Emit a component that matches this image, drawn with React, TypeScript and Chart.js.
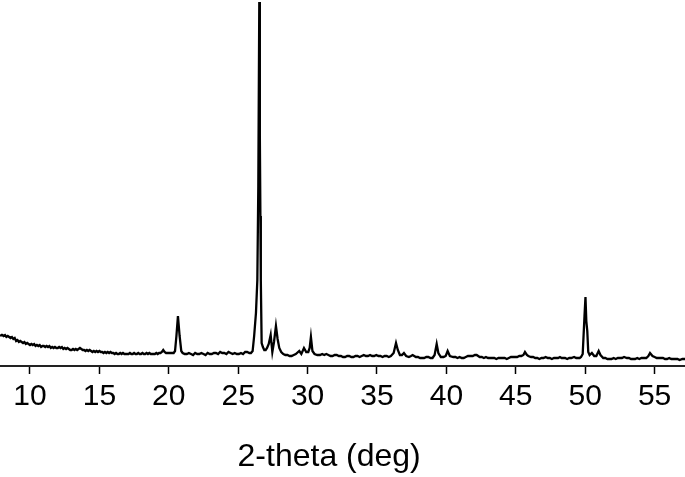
import React, { useEffect, useRef } from "react";
import { Chart, registerables } from "chart.js";

Chart.register(...registerables);

const twoTheta: number[] = [
  7.85, 7.95, 8.0, 8.1, 8.2, 8.3, 8.4, 8.5, 8.6, 8.7, 8.8, 8.9,
  9.0, 9.1, 9.2, 9.3, 9.4, 9.5, 9.6, 9.7, 9.8, 9.9,
  10.0, 10.1, 10.2, 10.3, 10.4, 10.5, 10.6, 10.7, 10.8, 10.9,
  11.0, 11.1, 11.2, 11.3, 11.4, 11.5, 11.6, 11.7, 11.8, 11.9,
  12.0, 12.1, 12.2, 12.3, 12.4, 12.5, 12.6, 12.7, 12.8, 12.9,
  13.0, 13.1, 13.2, 13.3, 13.4, 13.5, 13.6, 13.7, 13.8, 13.9,
  14.0, 14.1, 14.2, 14.3, 14.4, 14.5, 14.6, 14.7, 14.8, 14.9,
  15.0, 15.1, 15.2, 15.3, 15.4, 15.5, 15.6, 15.7, 15.8, 15.9,
  16.0, 16.1, 16.2, 16.3, 16.4, 16.5, 16.6, 16.7, 16.8, 16.9,
  17.0, 17.1, 17.2, 17.3, 17.4, 17.5, 17.6, 17.7, 17.8, 17.9,
  18.0, 18.1, 18.2, 18.3, 18.4, 18.5, 18.6, 18.7, 18.8, 18.9,
  19.0, 19.1, 19.2, 19.3, 19.4, 19.5, 19.6, 19.7, 19.8, 20.0,
  20.2, 20.35, 20.45, 20.55, 20.66, 20.78, 20.9,
  21.0, 21.15, 21.3, 21.45, 21.6, 21.75, 21.9, 22.05, 22.2, 22.35, 22.5, 22.65, 22.8, 22.95,
  23.1, 23.25, 23.4, 23.55, 23.7, 23.85, 24.0, 24.15, 24.3, 24.45, 24.6, 24.75, 24.9, 25.05,
  25.2, 25.35, 25.5, 25.65, 25.8, 25.92, 26.04, 26.15, 26.28, 26.38, 26.45, 26.52, 26.56, 26.6,
  26.63, 26.69, 26.78, 26.88, 26.98, 27.08, 27.2, 27.34, 27.46, 27.58, 27.72, 27.84, 27.96, 28.1,
  28.25, 28.4, 28.55, 28.7, 28.85, 29.0, 29.15, 29.4, 29.55, 29.74, 29.9, 30.05, 30.15, 30.24,
  30.35, 30.5, 30.7, 30.9,
  31.05, 31.2, 31.35, 31.5, 31.65, 31.8, 31.95, 32.1, 32.25, 32.4, 32.55, 32.7, 32.85, 33.0,
  33.15, 33.3, 33.45, 33.6, 33.75, 33.9, 34.05, 34.2, 34.35, 34.5, 34.65, 34.8, 34.95, 35.1,
  35.25, 35.4, 35.55, 35.7, 35.85, 36.0, 36.2, 36.37, 36.5, 36.65, 36.8, 36.94, 37.1, 37.3,
  37.45, 37.57, 37.8, 37.95, 38.1, 38.25, 38.4, 38.55, 38.7, 38.85, 39.0, 39.15, 39.3, 39.42,
  39.6, 39.8, 39.95, 40.09, 40.25, 40.5, 40.65, 40.8, 40.95, 41.1, 41.25, 41.4, 41.55, 41.7,
  41.9, 42.05, 42.18, 42.4, 42.55, 42.7, 42.85, 43.0, 43.15, 43.3, 43.45, 43.6, 43.75, 43.9,
  44.05, 44.2, 44.35, 44.5, 44.65, 44.8, 44.95, 45.1, 45.25, 45.4, 45.55, 45.66, 45.8, 45.9,
  46.1, 46.25, 46.4, 46.55, 46.7, 46.85, 47.0, 47.15, 47.3, 47.45, 47.6, 47.75, 47.9, 48.05,
  48.18, 48.3, 48.4, 48.55, 48.7, 48.85, 49.0, 49.2, 49.35, 49.5, 49.6, 49.7, 49.82, 49.95,
  50.02, 50.08, 50.15, 50.22, 50.32, 50.48, 50.65, 50.8, 50.97, 51.1, 51.3, 51.45, 51.6, 51.75,
  51.9, 52.05, 52.2, 52.35, 52.5, 52.65, 52.8, 53.0, 53.15, 53.3, 53.45, 53.6, 53.75, 53.9,
  54.05, 54.2, 54.4, 54.55, 54.67, 54.85, 55.0, 55.15, 55.3, 55.45, 55.6, 55.75, 55.9, 56.05,
  56.2, 56.35, 56.5, 56.65, 56.8, 57.0, 57.2,
];

const intensity: number[] = [
  30, 31, 31, 30, 31, 29, 30, 29, 28, 29, 27, 28,
  25, 26, 24, 25, 24, 23, 24, 22, 23, 22,
  21, 22, 21, 22, 20, 21, 20, 21, 19, 20,
  20, 19, 20, 19, 20, 18, 19, 18, 19, 18,
  18, 19, 18, 19, 17, 18, 17, 18, 17, 16,
  16, 17, 16, 17, 16, 17, 18, 17, 16, 16,
  15, 16, 15, 16, 15, 14, 15, 14, 15, 14,
  15, 14, 14, 13, 14, 13, 14, 13, 14, 13,
  13, 12, 13, 12, 12, 13, 12, 13, 12, 12,
  12, 12, 13, 12, 12, 13, 12, 12, 13, 12,
  12, 13, 12, 12, 13, 12, 13, 12, 12, 12,
  12, 13, 12, 13, 13, 14, 16, 14, 13, 13,
  13, 13, 15, 30, 50, 30, 15,
  13, 12, 12, 13, 12, 11, 13, 12, 12, 13, 12, 11, 13, 12,
  12, 13, 13, 12, 14, 13, 13, 12, 14, 13, 12, 13, 12, 12,
  13, 12, 14, 14, 13, 13, 15, 30, 53, 86, 180, 364, 230, 150,
  86, 23, 19, 16, 16, 18, 22, 31, 14, 24, 40, 27, 18, 14,
  12, 11, 11, 10, 10, 11, 12, 15, 12, 18, 14, 14, 18, 29,
  15, 12, 11, 11,
  12, 11, 12, 11, 10, 10, 11, 11, 10, 10, 9, 9, 10, 10,
  9, 9, 10, 10, 9, 10, 11, 10, 10, 11, 10, 10, 11, 10,
  10, 9, 10, 10, 9, 10, 13, 23, 16, 11, 11, 13, 10, 9,
  10, 11, 9, 9, 8, 8, 8, 9, 9, 8, 8, 11, 22, 13,
  9, 9, 10, 15, 10, 9, 9, 8, 9, 8, 8, 9, 10, 10,
  10, 11, 11, 9, 9, 8, 9, 8, 8, 8, 8, 7, 8, 8,
  8, 8, 7, 8, 9, 9, 9, 9, 10, 10, 11, 14, 11, 10,
  9, 9, 8, 8, 7, 8, 8, 9, 8, 8, 7, 8, 8, 8,
  9, 8, 8, 8, 7, 8, 8, 9, 8, 8, 8, 9, 12, 50,
  69, 45, 35, 14, 11, 13, 10, 10, 15, 11, 8, 8, 7, 7,
  7, 8, 7, 8, 8, 8, 9, 8, 8, 7, 7, 7, 8, 7,
  8, 8, 8, 10, 13, 10, 9, 8, 8, 8, 8, 7, 7, 8,
  7, 7, 7, 7, 6, 7, 7,
];

const xTickStep = 5;
const xMin = 7.84;
const xMax = 57.19;
const xTitle = "2-theta (deg)";

export default function App() {
  const canvasRef = useRef<HTMLCanvasElement | null>(null);

  useEffect(() => {
    const canvas = canvasRef.current;
    if (!canvas) return;
    const points = twoTheta.map((x, i) => ({ x, y: intensity[i] }));
    const chart = new Chart(canvas, {
      type: "line",
      data: {
        datasets: [
          {
            data: points,
            borderColor: "#000000",
            borderWidth: 2.3,
            pointRadius: 0,
            tension: 0,
            fill: false,
            clip: false as any,
          },
        ],
      },
      options: {
        animation: false,
        responsive: false,
        layout: { padding: 0 },
        plugins: {
          legend: { display: false },
          tooltip: { enabled: false },
          title: { display: false },
        },
        scales: {
          x: {
            type: "linear",
            position: "bottom",
            min: xMin,
            max: xMax,
            afterFit: (scale: any) => {
              scale.height = 111;
            },
            ticks: {
              stepSize: xTickStep,
              includeBounds: false,
              autoSkip: false,
              maxRotation: 0,
              padding: 5,
              color: "#000000",
              font: { family: "'Liberation Sans', Arial, sans-serif", size: 30 },
            },
            grid: {
              display: true,
              drawOnChartArea: false,
              drawTicks: true,
              tickLength: 8,
              tickWidth: 1.5,
              tickColor: "#000000",
              color: "#000000",
            },
            border: { display: true, color: "#222222", width: 2 },
            title: {
              display: true,
              text: xTitle + "   ",
              color: "#000000",
              font: { family: "'Liberation Sans', Arial, sans-serif", size: 32 },
              padding: { top: 0, bottom: 1 },
            },
          },
          y: {
            display: false,
            min: 0,
            max: 366,
          },
        },
      },
    });
    return () => chart.destroy();
  }, []);

  return (
    <div style={{ position: "absolute", left: 0, top: 0, width: 685, height: 477 }}>
      <canvas ref={canvasRef} width={685} height={477} style={{ display: "block" }} />
    </div>
  );
}
